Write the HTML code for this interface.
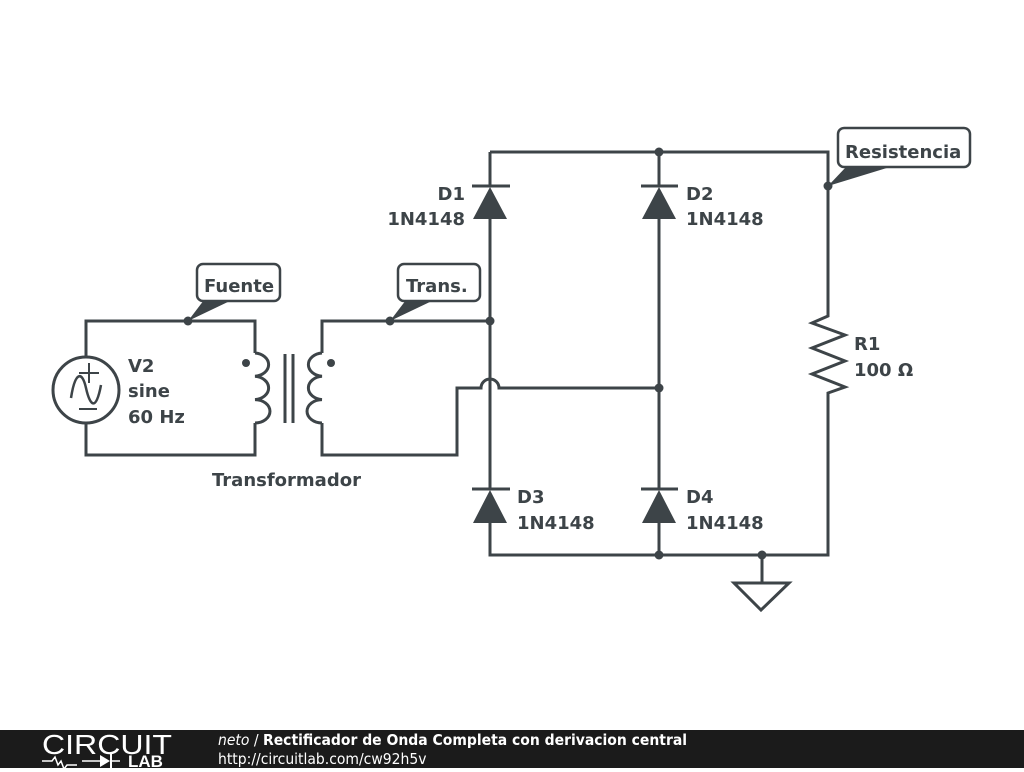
<!DOCTYPE html>
<html><head><meta charset="utf-8"><style>
body{margin:0;width:1024px;height:768px;background:#fff;overflow:hidden;font-family:"DejaVu Sans",sans-serif}
</style></head><body>
<svg width="1024" height="768" viewBox="0 0 1024 768" xmlns="http://www.w3.org/2000/svg">
<g stroke="#3d4448" stroke-width="3" fill="none" stroke-linejoin="miter">
<path d="M86,357 V321 H255 V353 M255,423 V455 H86 V423"/>
<circle cx="86" cy="390" r="33"/>
<path d="M71,398 C75,372 82,370 86,388 C90,406 96,412 101,385" stroke-width="2.5"/>
<path d="M89,363 v20 M79,373 h20 M79,409 h18" stroke-width="2"/>
<path d="M255,353 a15,11.7 0 0 1 0,23.3 a15,11.7 0 0 1 0,23.3 a15,11.7 0 0 1 0,23.4"/>
<path d="M285,354 V423 M293,354 V423"/>
<path d="M322,353 a15,11.7 0 0 0 0,23.3 a15,11.7 0 0 0 0,23.3 a15,11.7 0 0 0 0,23.4"/>
<path d="M322,353 V321 H490 M322,423 V455 H457 V388 H481 a9,9 0 0 1 18,0 H659"/>
<path d="M490,152 H828 V316 L812,323 L845,335 L812,348 L845,361 L812,374 L845,387 L828,393 V555 H490 V523 M490,489 V219 M490,186 V152"/>
<path d="M659,152 V186 M659,219 V489 M659,523 V555"/>
<path d="M472,186 H510 M641,186 H678 M472,489 H510 M641,489 H678"/>
<path d="M762,555 V583 M734,583 H789 L761,610 Z"/>
</g>
<g fill="#3d4448">
<polygon points="490,187 473,219 507,219"/>
<polygon points="659,187 642,219 676,219"/>
<polygon points="490,490 473,523 507,523"/>
<polygon points="659,490 642,523 676,523"/>
<circle cx="246" cy="363" r="4"/><circle cx="331" cy="363" r="4"/>
<circle cx="188" cy="321" r="4.5"/><circle cx="390" cy="321" r="4.5"/>
<circle cx="490" cy="321" r="4.5"/><circle cx="659" cy="152" r="4.5"/>
<circle cx="659" cy="388" r="4.5"/><circle cx="659" cy="555" r="4.5"/>
<circle cx="762" cy="555" r="4.5"/><circle cx="828" cy="186" r="4.5"/>
<polygon points="188,321 204,300 232,300"/>
<polygon points="390,321 406,300 434,300"/>
<polygon points="828,186 846,167 890,167"/>
</g>
<g fill="#fff" stroke="#3d4448" stroke-width="2.5">
<rect x="197" y="264" width="83" height="37" rx="6"/>
<rect x="398" y="264" width="82" height="37" rx="6"/>
<rect x="838" y="128" width="132" height="39" rx="6"/>
</g>
<g fill="#3d4448" font-weight="bold" font-size="18">
<text x="204" y="292">Fuente</text>
<text x="406" y="292">Trans.</text>
<text x="845" y="158">Resistencia</text>
<text x="128" y="372">V2</text><text x="128" y="397">sine</text><text x="128" y="423">60 Hz</text>
<text x="212" y="486">Transformador</text>
<text x="465" y="200" text-anchor="end">D1</text><text x="465" y="225" text-anchor="end">1N4148</text>
<text x="686" y="200">D2</text><text x="686" y="225">1N4148</text>
<text x="517" y="503">D3</text><text x="517" y="529">1N4148</text>
<text x="686" y="503">D4</text><text x="686" y="529">1N4148</text>
<text x="854" y="350">R1</text><text x="854" y="376">100 Ω</text>
</g>
<rect x="0" y="730" width="1024" height="38" fill="#1b1b1b"/>
<text x="42" y="754" fill="#fff" font-size="28" textLength="130" lengthAdjust="spacingAndGlyphs" style="font-family:'Liberation Sans',sans-serif">CIRCUIT</text>
<path d="M42,761 h10 l3,-4 l3,8 l3,-4 l3,8 l3,-4 h10 M82,761 h20 M112,761 h8" stroke="#fff" stroke-width="1.5" fill="none"/>
<polygon points="100,755 100,767 110,761" fill="#fff"/><path d="M111,754 v14" stroke="#fff" stroke-width="2"/>
<text x="128" y="767" fill="#fff" font-size="17" font-weight="bold" style="font-family:'Liberation Sans',sans-serif">LAB</text>
<text x="218" y="745" fill="#fff" font-size="15.5" style="font-family:'DejaVu Sans Condensed','DejaVu Sans',sans-serif"><tspan font-style="italic">neto</tspan> / <tspan font-weight="bold">Rectificador de Onda Completa con derivacion central</tspan></text>
<text x="218" y="764" fill="#fff" font-size="15.5" style="font-family:'DejaVu Sans Condensed','DejaVu Sans',sans-serif">http://circuitlab.com/cw92h5v</text>
</svg>
</body></html>
